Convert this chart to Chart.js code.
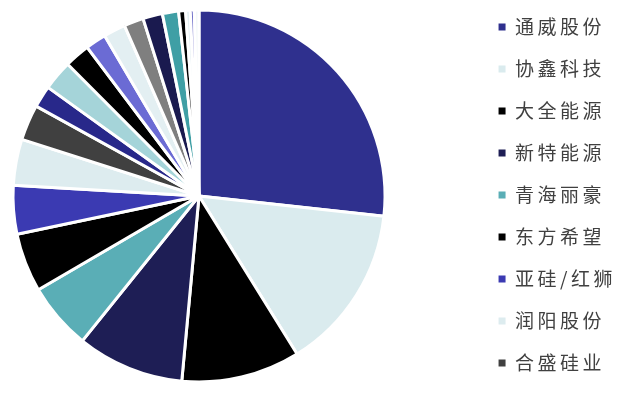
<!DOCTYPE html>
<html>
<head>
<meta charset="utf-8">
<script src="https://cdn.jsdelivr.net/npm/chart.js@4/dist/chart.umd.min.js"></script>
<style>
  html, body { margin: 0; padding: 0; background: #ffffff; }
  #wrap { position: relative; width: 622px; height: 396px; }
</style>
</head>
<body>
<div id="wrap"><canvas id="c" width="622" height="396"></canvas></div>
<script>
// Companies (only the first nine are shown in the legend)
const categories = [
  '通威股份', '协鑫科技', '大全能源', '新特能源', '青海丽豪', '东方希望',
  '亚硅/红狮', '润阳股份', '合盛硅业',
  '其他1', '其他2', '其他3', '其他4', '其他5', '其他6', '其他7', '其他8',
  '其他9', '其他10', '其他11', '其他12'
];
// Share of each slice (%)
const shares = [
  26.7, 14.4, 10.3, 9.3, 5.8, 5.1,
  4.2, 4.0, 3.1,
  1.9, 2.6, 2.2, 1.8, 1.9, 1.7, 1.7, 1.4,
  0.6, 0.4, 0.35, 0.4
];
const sliceColors = [
  '#2F308E', '#DAEBEE', '#000000', '#1E1E55', '#5AAEB6', '#000000',
  '#3B3AB2', '#DDECEF', '#404040',
  '#28288A', '#A5D4D9', '#000000', '#6B6BD4', '#E3EFF2', '#7F7F7F', '#1A1A4F', '#3F9FA5',
  '#000000', '#E3EFF2', '#6E6EC8', '#F3F8F9'
];
const legendCount = 9;

const spacingPlugin = {
  id: 'letterSpacing',
  beforeLayout(chart) { chart.ctx.letterSpacing = '3.5px'; },
  beforeDraw(chart) { chart.ctx.letterSpacing = '3.5px'; }
};

// Place the pie in the left part of the canvas and nudge the legend, as in the reference
const pieAreaPlugin = {
  id: 'pieArea',
  afterLayout(chart) {
    chart.chartArea = { left: 13, top: 10, right: 385, bottom: 382, width: 372, height: 372 };
    if (chart.legend) {
      chart.legend.left += 4;
      chart.legend.right += 4;
    }
  }
};

new Chart(document.getElementById('c'), {
  type: 'pie',
  data: {
    labels: categories,
    datasets: [{
      data: shares,
      backgroundColor: sliceColors,
      borderColor: '#ffffff',
      borderWidth: 3,
      radius: 186
    }]
  },
  options: {
    responsive: false,
    animation: false,
    layout: { padding: { left: 0, right: 0, top: -7, bottom: -1 } },
    plugins: {
      tooltip: { enabled: false },
      legend: {
        position: 'right',
        labels: {
          boxWidth: 7,
          boxHeight: 7,
          padding: 23,
          color: '#404040',
          font: { family: '"Noto Sans CJK SC", "Noto Sans", sans-serif', size: 19, weight: 'normal' },
          generateLabels(chart) {
            const base = Chart.overrides.pie.plugins.legend.labels.generateLabels(chart);
            return base.slice(0, legendCount).map(l => Object.assign({}, l, { lineWidth: 0 }));
          }
        }
      }
    }
  },
  plugins: [spacingPlugin, pieAreaPlugin]
});
</script>
</body>
</html>
